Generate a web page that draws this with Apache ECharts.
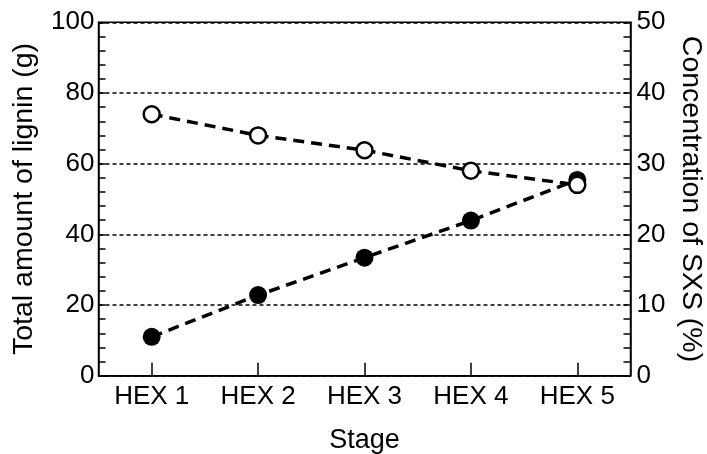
<!DOCTYPE html>
<html><head><meta charset="utf-8">
<script src="https://cdn.jsdelivr.net/npm/echarts@6/dist/echarts.min.js"></script>
<style>html,body{margin:0;padding:0;background:#fff}#c{width:707px;height:454px}</style>
</head><body><div id="c"></div>
<script>
const categories = ['HEX 1','HEX 2','HEX 3','HEX 4','HEX 5'];
const ligninTotal = [11.0, 22.8, 33.4, 43.9, 55.4];   // g, left axis (filled)
const sxsConc = [37.0, 34.0, 31.9, 29.0, 27.0];       // %, right axis (open)
const leftTicks = [0, 20, 40, 60, 80, 100];
const rightTicks = [0, 10, 20, 30, 40, 50];

const FONT = 'Liberation Sans, Arial, sans-serif';
const chart = echarts.init(document.getElementById('c'), null, {renderer:'canvas'});
chart.setOption({
  animation:false,
  backgroundColor:'#fff',
  grid:{left:98.5, right:76.5, top:22.3, bottom:78.3, containLabel:false, outerBoundsMode:'none',
        show:true, borderColor:'#000', borderWidth:1.5, backgroundColor:'transparent'},
  xAxis:{
    type:'category', data:categories, boundaryGap:true,
    name:'Stage', nameLocation:'middle', nameGap:51,
    nameTextStyle:{fontFamily:FONT, fontSize:27, color:'#000'},
    axisLine:{lineStyle:{color:'#000', width:1.5}},
    axisTick:{show:true, inside:true, length:13, alignWithLabel:true, lineStyle:{color:'#000', width:1.5}},
    axisLabel:{fontFamily:FONT, fontSize:26, color:'#000', margin:8},
    splitLine:{show:false}
  },
  yAxis:[{
    type:'value', min:leftTicks[0], max:leftTicks[leftTicks.length-1], interval:20, position:'left',
    name:'Total amount of lignin (g)', nameLocation:'middle', nameGap:60,
    nameTextStyle:{fontFamily:FONT, fontSize:28.5, color:'#000'},
    axisLine:{show:true, lineStyle:{color:'#000', width:1.5}},
    axisTick:{show:true, inside:true, length:7, lineStyle:{color:'#000', width:1.5}},
    minorTick:{show:true, splitNumber:5, length:7, lineStyle:{color:'#000', width:1.5}},
    axisLabel:{fontFamily:FONT, fontSize:26, color:'#000', margin:4},
    splitLine:{show:true, lineStyle:{type:[4,3], color:'#000', width:1.6}}
  },{
    type:'value', min:rightTicks[0], max:rightTicks[rightTicks.length-1], interval:10, position:'right',
    name:'Concentration of SXS (%)', nameLocation:'middle', nameGap:41, nameRotate:-90,
    nameTextStyle:{fontFamily:FONT, fontSize:28.5, color:'#000'},
    axisLine:{show:true, lineStyle:{color:'#000', width:1.5}},
    axisTick:{show:true, inside:true, length:7, lineStyle:{color:'#000', width:1.5}},
    minorTick:{show:true, splitNumber:5, length:7, lineStyle:{color:'#000', width:1.5}},
    axisLabel:{fontFamily:FONT, fontSize:26, color:'#000', margin:6},
    splitLine:{show:false}
  }],
  series:[{
    type:'line', yAxisIndex:0, data:ligninTotal,
    symbol:'circle', symbolSize:18,
    itemStyle:{color:'#000', borderColor:'#000', borderWidth:0},
    lineStyle:{type:[11,7], width:3.5, color:'#000'},
    z:2
  },{
    type:'line', yAxisIndex:1, data:sxsConc,
    symbol:'circle', symbolSize:16,
    itemStyle:{color:'#fff', borderColor:'#000', borderWidth:2.5},
    lineStyle:{type:[11,7], width:3.5, color:'#000'},
    z:3
  }]
});
</script></body></html>
